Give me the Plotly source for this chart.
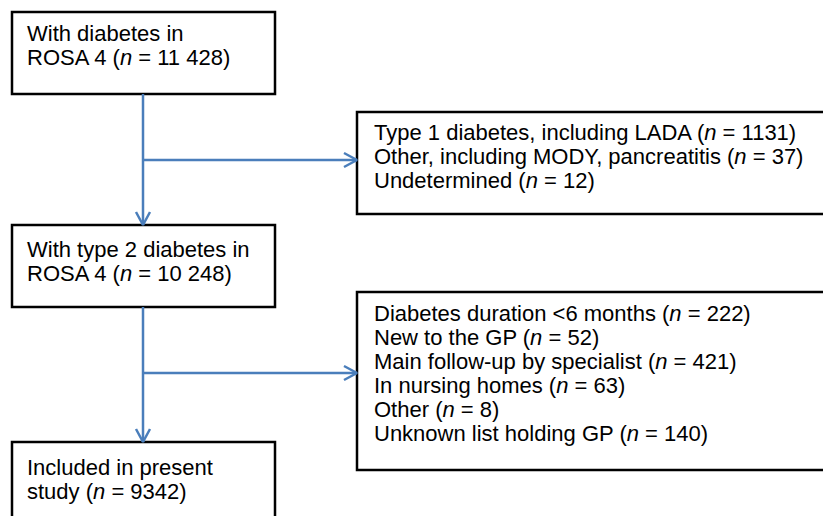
import plotly.graph_objects as go

# ---- data (text content of the flowchart) ----
main_boxes = [
    ["With diabetes in", "ROSA 4 (<i>n</i> = 11 428)"],
    ["With type 2 diabetes in", "ROSA 4 (<i>n</i> = 10 248)"],
    ["Included in present", "study (<i>n</i> = 9342)"],
]
excl_type = [
    "Type 1 diabetes, including LADA (<i>n</i> = 1131)",
    "Other, including MODY, pancreatitis (<i>n</i> = 37)",
    "Undetermined (<i>n</i> = 12)",
]
excl_other = [
    "Diabetes duration &lt;6 months (<i>n</i> = 222)",
    "New to the GP (<i>n</i> = 52)",
    "Main follow-up by specialist (<i>n</i> = 421)",
    "In nursing homes (<i>n</i> = 63)",
    "Other (<i>n</i> = 8)",
    "Unknown list holding GP (<i>n</i> = 140)",
]

# ---- layout geometry (pixel space) ----
W, H = 823, 516
FONT = dict(family="Liberation Sans, Arial, sans-serif", size=22, color="black")
BLUE = "#4A7EBB"
LINE_GAP = 24

main_rects = [(12, 12, 275, 94), (12, 225, 275, 307), (12, 442, 275, 540)]
main_first_base = [38, 254, 472]
side_rects = [(357, 112, 840, 214), (357, 292, 840, 470)]
side_first_base = [137, 318]
side_texts = [excl_type, excl_other]
trunk_x = 143
branch_y = [160, 373]

fig = go.Figure()
shapes = []
annotations = []

def add_lines(lines, x, first_base):
    for i, t in enumerate(lines):
        annotations.append(dict(
            x=x, y=first_base + i * LINE_GAP - 4.5, xref="x", yref="y",
            text=t, showarrow=False, xanchor="left", yanchor="middle",
            font=FONT, align="left"))

for rect, lines, b in zip(main_rects, main_boxes, main_first_base):
    x0, y0, x1, y1 = rect
    shapes.append(dict(type="rect", x0=x0, y0=y0, x1=x1, y1=y1,
                       line=dict(color="black", width=2.5), fillcolor="white", layer="below"))
    add_lines(lines, x0 + 13, b)

for rect, lines, b in zip(side_rects, side_texts, side_first_base):
    x0, y0, x1, y1 = rect
    shapes.append(dict(type="rect", x0=x0, y0=y0, x1=x1, y1=y1,
                       line=dict(color="black", width=2.5), fillcolor="white", layer="below"))
    add_lines(lines, x0 + 15, b)

# connector lines
lx, ly = [], []
for (a, b) in [(main_rects[0][3], main_rects[1][1]), (main_rects[1][3], main_rects[2][1])]:
    lx += [trunk_x, trunk_x, None]
    ly += [a, b, None]
    lx += [trunk_x - 7, trunk_x, trunk_x + 7, None]
    ly += [b - 13, b, b - 13, None]
for by, rect in zip(branch_y, side_rects):
    tip = rect[0]
    lx += [trunk_x, tip, None]
    ly += [by, by, None]
    lx += [tip - 13, tip, tip - 13, None]
    ly += [by - 7, by, by + 7, None]

fig.add_trace(go.Scatter(x=lx, y=ly, mode="lines",
                         line=dict(color=BLUE, width=2.5),
                         hoverinfo="skip", showlegend=False))

fig.update_layout(
    width=W, height=H,
    margin=dict(l=0, r=0, t=0, b=0),
    paper_bgcolor="white", plot_bgcolor="white",
    xaxis=dict(range=[0, W], visible=False, fixedrange=True),
    yaxis=dict(range=[H, 0], visible=False, fixedrange=True),
    shapes=shapes, annotations=annotations,
    showlegend=False,
)

fig.write_html("out.html", config={"displayModeBar": False},
               post_script="document.body.style.margin='0';document.body.style.overflow='hidden';")
